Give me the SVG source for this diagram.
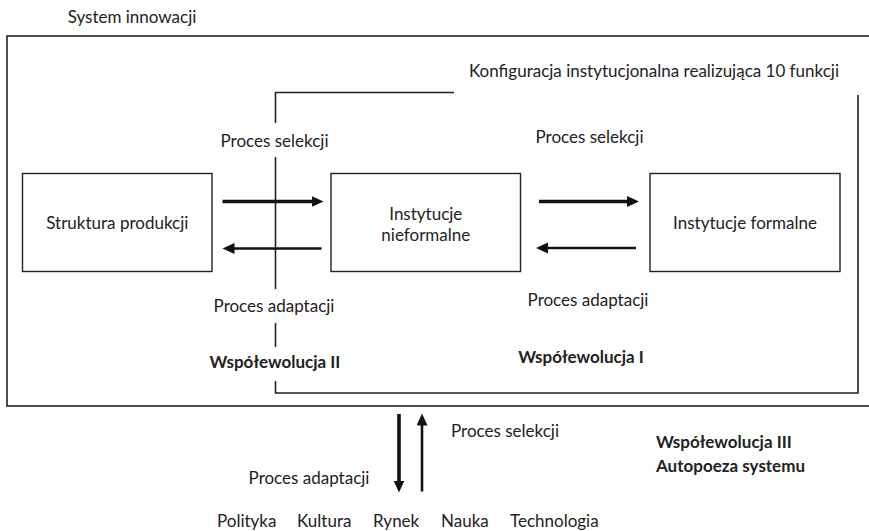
<svg xmlns="http://www.w3.org/2000/svg" width="869" height="531" viewBox="0 0 869 531">
<defs>
<style>
text{font-family:Lato,"Liberation Sans",sans-serif;font-size:17px;fill:#222}
.b{font-weight:bold}
.m{text-anchor:middle}
.box{fill:#fff;stroke:#222;stroke-width:1.4}
.ln{fill:none;stroke:#222;stroke-width:1.6}
.a1{stroke:#111;stroke-width:3.6;fill:none}
.a2{stroke:#111;stroke-width:2.6;fill:none}
</style>
<marker id="ah" markerUnits="userSpaceOnUse" markerWidth="14" markerHeight="12" refX="2" refY="5.5" orient="auto">
<path d="M0,0 L12,5.5 L0,11 z" fill="#111"/>
</marker>
</defs>
<rect width="869" height="531" fill="#fff"/>
<g id="system">
<rect x="7" y="36" width="870" height="370" class="ln" stroke-width="1.8"/>
<text x="132" y="23" class="m">System innowacji</text>
</g>
<g id="konfiguracja">
<path class="ln" d="M275.5,123 V92.5 H454 M858,95 V393 H275.5 V381 M275.5,157 V289 M275.5,323 V347"/>
<text x="654" y="77" class="m">Konfiguracja instytucjonalna realizująca 10 funkcji</text>
</g>
<g id="struktura">
<rect x="22.5" y="173.5" width="189.5" height="98" class="box"/>
<text x="117.3" y="229" class="m">Struktura produkcji</text>
</g>
<g id="nieformalne">
<rect x="331" y="173.5" width="189.5" height="98" class="box"/>
<text x="425.8" y="220" class="m">Instytucje</text>
<text x="425.8" y="241" class="m">nieformalne</text>
</g>
<g id="formalne">
<rect x="650" y="173.5" width="190" height="98" class="box"/>
<text x="745" y="229" class="m">Instytucje formalne</text>
</g>
<g id="connectors">
<line x1="222.5" y1="201.5" x2="313.5" y2="201.5" class="a1" marker-end="url(#ah)"/>
<line x1="321.5" y1="248.5" x2="232.5" y2="248.5" class="a2" marker-end="url(#ah)"/>
<line x1="539" y1="201.5" x2="629" y2="201.5" class="a1" marker-end="url(#ah)"/>
<line x1="636" y1="248" x2="546" y2="248" class="a2" marker-end="url(#ah)"/>
<line x1="399" y1="414" x2="399" y2="482.5" class="a1" marker-end="url(#ah)"/>
<line x1="422" y1="491.5" x2="422" y2="423.5" class="a2" marker-end="url(#ah)"/>
</g>
<g id="labels">
<text x="274.5" y="147" class="m">Proces selekcji</text>
<text x="589.5" y="143" class="m">Proces selekcji</text>
<text x="274" y="311.5" class="m">Proces adaptacji</text>
<text x="588" y="306" class="m">Proces adaptacji</text>
<text x="275" y="368" class="m b">Współewolucja II</text>
<text x="581" y="363" class="m b">Współewolucja I</text>
<text x="505" y="437" class="m">Proces selekcji</text>
<text x="309" y="484" class="m">Proces adaptacji</text>
<text x="656" y="448" class="b">Współewolucja III</text>
<text x="656" y="471.5" class="b">Autopoeza systemu</text>
</g>
<g id="otoczenie">
<text x="217" y="526.5">Polityka</text>
<text x="297" y="526.5">Kultura</text>
<text x="373" y="526.5">Rynek</text>
<text x="441" y="526.5">Nauka</text>
<text x="510" y="526.5">Technologia</text>
</g>
</svg>
